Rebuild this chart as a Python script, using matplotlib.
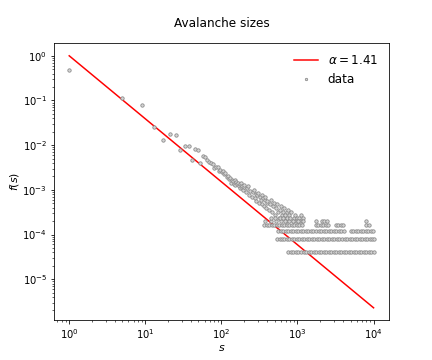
import numpy as np
import matplotlib
matplotlib.use('Agg')
import matplotlib.pyplot as plt

# total number of avalanches (f = count / n_events)
n_events = 25000

# head of the distribution: sizes and counts
sizes = [1, 5, 9, 13, 17, 21, 25, 29, 33, 37, 41, 45, 49, 53, 57, 61, 65, 69, 73, 77,
         81, 85, 89, 93, 97, 101, 105, 109, 113, 117, 121, 125, 129, 133, 137, 141, 145,
         149, 153, 157, 161, 165, 169, 173, 177, 181, 185, 189, 193, 197,
         201, 209, 217, 225, 233, 241, 249, 257, 265, 273, 281, 289, 297, 305, 313, 321,
         329, 337, 345, 353, 361, 369, 377, 385, 393,
         401, 417, 433, 449, 465, 481, 497, 513, 529, 545, 561, 577, 593, 609, 625, 641,
         657, 673, 689, 705, 721, 737, 753, 769, 785,
         801, 833, 865, 897, 929, 961, 993, 1025, 1057, 1089, 1121, 1153, 1185]
counts = [12000, 2850, 1960, 640, 318, 442, 433, 190, 238, 240, 115, 200, 190, 98, 142, 133,
          115, 106, 100, 94, 76, 81, 82, 66, 70, 62, 66, 56, 60, 49, 51, 43, 45, 36, 41, 39,
          33, 41, 32, 37, 33, 36, 30, 34, 28, 35, 27, 31, 25, 29,
          32, 22, 27, 30, 19, 24, 17, 22, 25, 16, 20, 14, 19, 21, 13, 17,
          15, 19, 12, 16, 11, 15, 17, 10, 13,
          14, 9, 12, 15, 8, 11, 13, 7, 10, 12, 8, 6, 9, 11, 7, 8,
          6, 10, 7, 5, 8, 6, 9, 5, 7,
          6, 8, 5, 6, 7, 5, 6, 5, 6, 5, 7, 5, 6]

# tail: sizes seen once, twice, ... (the flat rows)
tail_1 = [761, 821, 886, 956, 1031, 1113, 1201, 1296, 1398, 1509, 1628, 1757, 1895, 2045,
          2207, 2381, 2569, 2772, 2991, 3228, 3483, 3758, 4055, 4375, 4721, 5094, 5496,
          5931, 6399, 6905, 7450, 8039, 8674, 9360, 10000]
tail_2 = [546, 581, 620, 669, 722, 779, 840, 907, 978, 1055, 1139, 1229, 1326, 1431, 1544,
          1666, 1797, 1939, 2092, 2258, 2436, 2628, 2836, 3060, 3302, 3563, 3844, 4148,
          4475, 4829, 5210, 5622, 6066, 6545, 7062, 7620, 8222, 8872, 9573, 10000]
tail_3 = [560, 604, 652, 703, 759, 819, 883, 953, 1028, 1110, 1197, 1292, 1394, 1504, 1623,
          1751, 1889, 2038, 2199, 2373, 2560, 2763, 2981, 3216, 3470, 3745, 4030,
          4980, 5373, 5798, 6256, 6750, 7283, 7858, 8479, 9149, 9870]
tail_4 = [365, 394, 425, 459, 495, 534, 576, 621, 670, 723, 780, 842, 908, 980, 1057, 1141,
          1740, 1877, 2025, 2185, 2358, 2545, 3170, 3420, 3690, 3981, 8050, 8580]
tail_5 = [379, 445, 520, 610, 690, 870, 1010, 1170, 1730, 2080, 2250, 2450, 8000]
tail_6 = [450, 505, 590, 650]

# power-law fit, alpha = 1.41
alpha = 1.41
fit_s = [1, 10000]
fit_f = [1.0, 2.29e-6]

s_all = np.array(sizes + tail_1 + tail_2 + tail_3 + tail_4 + tail_5 + tail_6, dtype=float)
c_all = np.array(counts + [1]*len(tail_1) + [2]*len(tail_2) + [3]*len(tail_3)
                 + [4]*len(tail_4) + [5]*len(tail_5) + [6]*len(tail_6), dtype=float)
f_all = c_all / n_events

fig = plt.figure(figsize=(6, 5), dpi=72)
plt.loglog(fit_s, fit_f, 'r-', linewidth=1.5, label=r'$\alpha = %.2f$' % alpha)
plt.loglog(s_all, f_all, 'o', markersize=3.4, markerfacecolor='#d4d4d4',
           markeredgecolor='#8a8a8a', markeredgewidth=0.8, label='data')
plt.title('Avalanche sizes', fontsize=12, pad=16)
plt.xlabel('$s$', fontsize=11, labelpad=2)
plt.ylabel('$f(s)$', fontsize=11, labelpad=1)
plt.legend(frameon=False, markerscale=0.7, fontsize=12)
plt.savefig('out.png', dpi=72)
